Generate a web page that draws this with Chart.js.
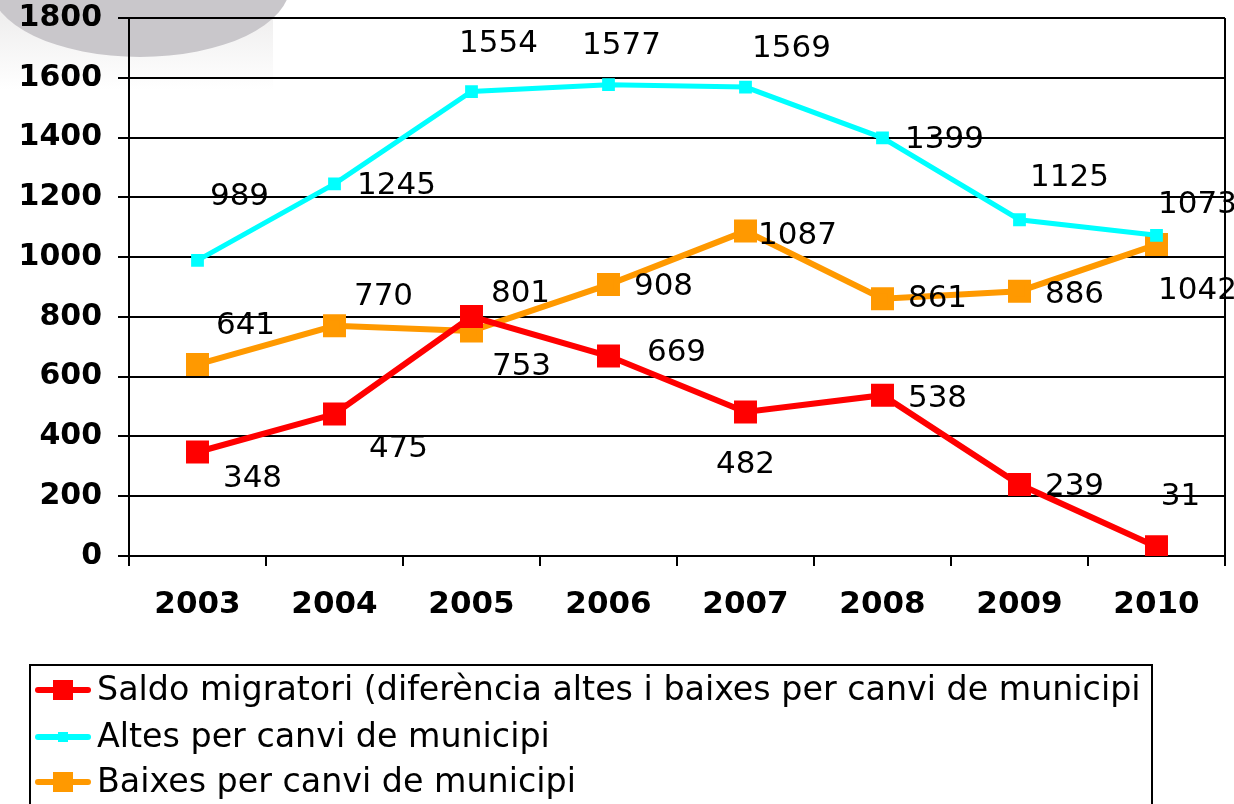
<!DOCTYPE html>
<html>
<head>
<meta charset="utf-8">
<script src="https://cdn.jsdelivr.net/npm/chart.js@4/dist/chart.umd.min.js"></script>
<style>
  html, body { margin: 0; padding: 0; background: #fff; }
  #wrap { width: 1234px; height: 804px; position: relative; }
</style>
</head>
<body>
<div id="wrap"><canvas id="grafic" width="1234" height="804"></canvas></div>
<script>
const anys = ["2003", "2004", "2005", "2006", "2007", "2008", "2009", "2010"];
const saldo = [348, 475, 801, 669, 482, 538, 239, 31];
const altes = [989, 1245, 1554, 1577, 1569, 1399, 1125, 1073];
const baixes = [641, 770, 753, 908, 1087, 861, 886, 1042];
const yTicks = [0, 200, 400, 600, 800, 1000, 1200, 1400, 1600, 1800];

const noms = [
  "Saldo migratori (diferència altes i baixes per canvi de municipi",
  "Altes per canvi de municipi",
  "Baixes per canvi de municipi"
];

// on va cada etiqueta respecte al punt (px)
const despl = [
  [[55, 27], [64, 35], [49, -23], [68, -3], [0, 53], [55, 4], [55, 2], [24, -50]],
  [[42, -63], [62, 2], [27, -48], [13, -39], [46, -38], [62, 2], [50, -42], [41, -30]],
  [[48, -38], [49, -29], [50, 36], [55, 2], [52, 5], [55, 0], [55, 4], [41, 46]]
];

const FONT = "'DejaVu Sans', Verdana, sans-serif";

// taca grisa de fons a dalt a l'esquerra
const fons = {
  id: "fons",
  beforeDraw(chart) {
    const c = chart.ctx;
    c.save();
    const g = c.createLinearGradient(0, 0, 0, 90);
    g.addColorStop(0, "#ecebeb");
    g.addColorStop(1, "#ffffff");
    c.fillStyle = g;
    c.fillRect(0, 0, 273, 90);
    c.fillStyle = "#c9c7cb";
    c.beginPath();
    c.ellipse(140, -15, 150, 72, 0, 0, Math.PI * 2);
    c.fill();
    c.restore();
  }
};

// vora dreta, etiquetes i llegenda
const extres = {
  id: "extres",
  afterDraw(chart) {
    const c = chart.ctx;
    const a = chart.chartArea;
    c.save();
    c.strokeStyle = "#000";
    c.lineWidth = 2;
    c.beginPath();
    c.moveTo(a.right, a.top);
    c.lineTo(a.right, a.bottom + 10);
    c.stroke();

    c.font = "31px " + FONT;
    c.fillStyle = "#000";
    c.textAlign = "center";
    c.textBaseline = "middle";
    chart.data.datasets.forEach((ds, i) => {
      chart.getDatasetMeta(i).data.forEach((p, j) => {
        c.fillText(String(ds.data[j]), p.x + despl[i][j][0], p.y + despl[i][j][1]);
      });
    });

    // llegenda
    c.lineWidth = 2;
    c.strokeStyle = "#000";
    c.strokeRect(30, 665, 1122, 150);
    c.font = "33.3px " + FONT;
    c.textAlign = "left";
    const files = [690, 737, 782];
    chart.data.datasets.forEach((ds, i) => {
      const y = files[i];
      c.strokeStyle = ds.borderColor;
      c.lineWidth = 6;
      c.lineCap = "round";
      c.beginPath();
      c.moveTo(38, y);
      c.lineTo(88, y);
      c.stroke();
      const m = i === 1 ? 10 : 20;
      c.fillStyle = ds.borderColor;
      c.fillRect(63 - m / 2, y - m / 2, m, m);
      c.fillStyle = "#000";
      c.fillText(noms[i], 97, y + 1);
    });
    c.restore();
  }
};

new Chart(document.getElementById("grafic"), {
  type: "line",
  data: {
    labels: anys,
    datasets: [
      { label: noms[0], data: saldo, borderColor: "#ff0000", backgroundColor: "#ff0000",
        borderWidth: 6, pointStyle: "rect", pointRadius: 12, pointHoverRadius: 12 },
      { label: noms[1], data: altes, borderColor: "#00ffff", backgroundColor: "#00ffff",
        borderWidth: 5, pointStyle: "rect", pointRadius: 5.5, pointHoverRadius: 5.5 },
      { label: noms[2], data: baixes, borderColor: "#ff9900", backgroundColor: "#ff9900",
        borderWidth: 6, pointStyle: "rect", pointRadius: 12, pointHoverRadius: 12 }
    ]
  },
  options: {
    responsive: false,
    animation: false,
    devicePixelRatio: 1,
    layout: { autoPadding: false, padding: { left: 0, top: 18, right: 9, bottom: 178 } },
    plugins: { legend: { display: false }, tooltip: { enabled: false } },
    scales: {
      x: {
        offset: true,
        grid: { offset: true, drawOnChartArea: false, drawTicks: true, tickLength: 10, color: "#000", lineWidth: 2 },
        border: { color: "#000", width: 2 },
        ticks: { color: "#000", font: { family: FONT, size: 31, weight: "bold" }, padding: 20 },
        afterFit(s) {
          s.height = 70;
          s.paddingLeft = 0; s.paddingRight = 0; s.paddingTop = 0; s.paddingBottom = 0;
        }
      },
      y: {
        min: 0,
        max: 1800,
        afterBuildTicks(s) { s.ticks = yTicks.map(v => ({ value: v })); },
        grid: { color: "#000", lineWidth: 2, tickLength: 11 },
        border: { color: "#000", width: 2 },
        ticks: { color: "#000", font: { family: FONT, size: 30, weight: "bold" }, padding: 16,
          callback: v => String(v) },
        afterFit(s) {
          s.width = 129;
          s.paddingLeft = 0; s.paddingRight = 0; s.paddingTop = 0; s.paddingBottom = 0;
        }
      }
    }
  },
  plugins: [fons, extres]
});
</script>
</body>
</html>
